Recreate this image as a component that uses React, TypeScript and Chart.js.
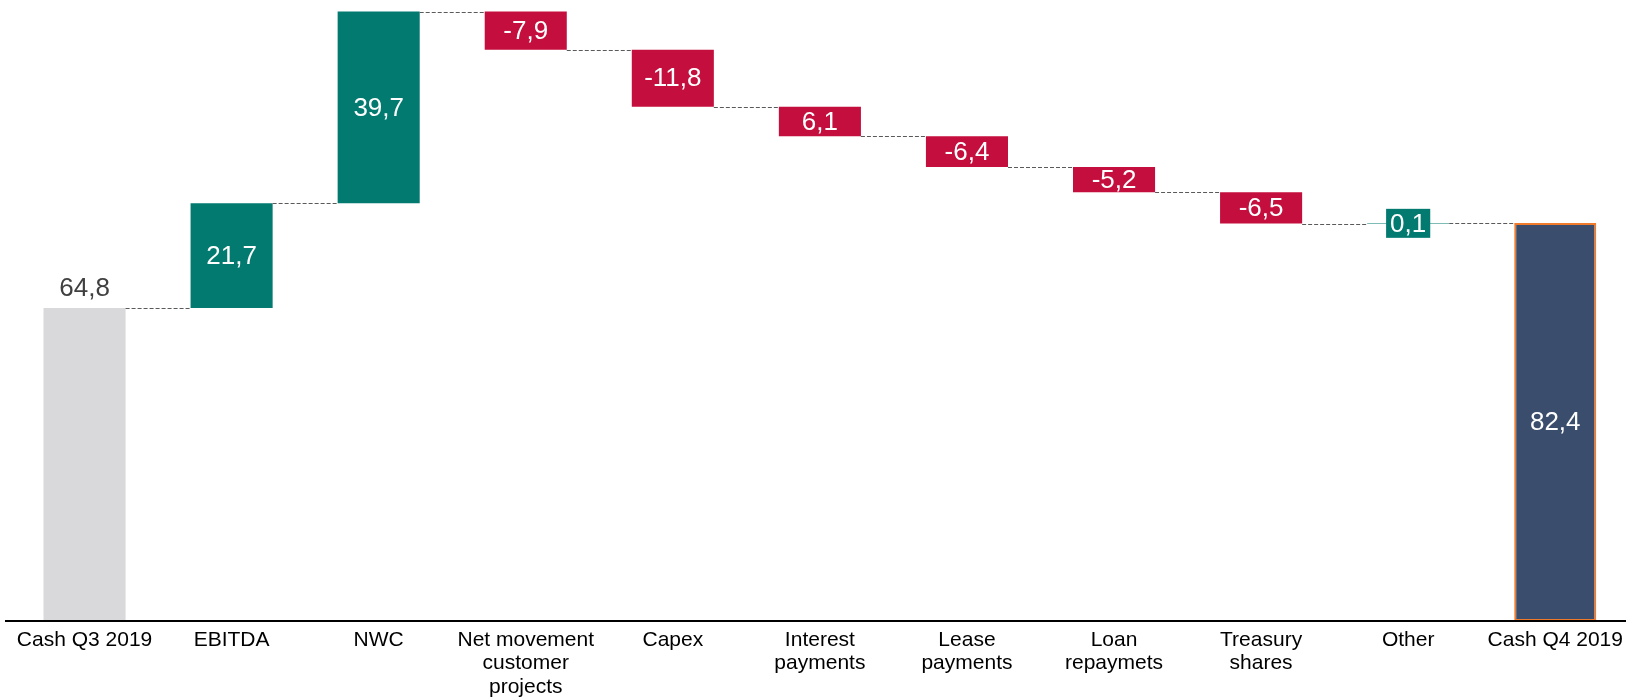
import React, { useEffect, useRef } from "react";
import { Chart, registerables } from "chart.js";

Chart.register(...registerables);

const categories: string[][] = [
  ["Cash Q3 2019"],
  ["EBITDA"],
  ["NWC"],
  ["Net movement", "customer", "projects"],
  ["Capex"],
  ["Interest", "payments"],
  ["Lease", "payments"],
  ["Loan", "repaymets"],
  ["Treasury", "shares"],
  ["Other"],
  ["Cash Q4 2019"],
];

const deltas: number[] = [64.8, 21.7, 39.7, -7.9, -11.8, -6.1, -6.4, -5.2, -6.5, 0.1, 82.4];
const kinds: string[] = ["start", "up", "up", "down", "down", "down", "down", "down", "down", "up", "end"];
const valueLabels: string[] = ["64,8", "21,7", "39,7", "-7,9", "-11,8", "6,1", "-6,4", "-5,2", "-6,5", "0,1", "82,4"];

const kindColors: Record<string, string> = {
  start: "#D9D9DB",
  up: "#027A70",
  down: "#C40E3D",
  end: "#3A4D6C",
};
const kindBorders: Record<string, string> = {
  start: "#D9D9DB",
  up: "#027A70",
  down: "#C40E3D",
  end: "#F07B2D",
};

const FONT = '"Liberation Sans", Arial, sans-serif';

function buildRanges() {
  const ranges: [number, number][] = [];
  const levels: number[] = [];
  let running = 0;
  deltas.forEach((d, i) => {
    const k = kinds[i];
    if (k === "start" || k === "end") {
      ranges.push([0, d]);
      running = d;
    } else {
      ranges.push([running, running + d]);
      running = running + d;
    }
    levels.push(running);
  });
  return { ranges, levels };
}

export default function App() {
  const ref = useRef<HTMLCanvasElement | null>(null);

  useEffect(() => {
    if (!ref.current) return;
    const { ranges, levels } = buildRanges();

    const overlay = {
      id: "overlay",
      afterDatasetsDraw(chart: any) {
        const ctx = chart.ctx as CanvasRenderingContext2D;
        const meta = chart.getDatasetMeta(0);
        const ys = chart.scales.y;
        const area = chart.chartArea;
        ctx.save();
        // connectors
        ctx.strokeStyle = "#5A5A5A";
        ctx.lineWidth = 1;
        ctx.setLineDash([4, 2]);
        for (let i = 0; i < meta.data.length - 1; i++) {
          const b = meta.data[i];
          const nb = meta.data[i + 1];
          const yy = Math.round(ys.getPixelForValue(levels[i])) + 0.5;
          ctx.beginPath();
          ctx.moveTo(b.x + b.width / 2, yy);
          ctx.lineTo(nb.x - nb.width / 2, yy);
          ctx.stroke();
        }
        // axis line
        ctx.setLineDash([]);
        ctx.strokeStyle = "#000000";
        ctx.lineWidth = 2;
        ctx.beginPath();
        ctx.moveTo(5, area.bottom);
        ctx.lineTo(chart.width, area.bottom);
        ctx.stroke();
        // value labels
        ctx.font = `26px ${FONT}`;
        ctx.textAlign = "center";
        ctx.textBaseline = "middle";
        meta.data.forEach((b: any, i: number) => {
          const top = Math.min(b.y, b.base);
          const bottom = Math.max(b.y, b.base);
          const h = bottom - top;
          const cy = (top + bottom) / 2;
          const k = kinds[i];
          const txt = valueLabels[i];
          if (k === "start") {
            ctx.fillStyle = "#404040";
            ctx.fillText(txt, b.x, top - 19);
          } else {
            if (h < 24) {
              const w = ctx.measureText(txt).width + 8;
              ctx.fillStyle = kindColors[k];
              ctx.fillRect(b.x - w / 2, cy - 14.5, w, 29);
            }
            ctx.fillStyle = "#FFFFFF";
            ctx.fillText(txt, b.x, cy + 1);
          }
        });
        ctx.restore();
      },
    };

    const chart = new Chart(ref.current, {
      type: "bar",
      data: {
        labels: categories,
        datasets: [
          {
            data: ranges as any,
            backgroundColor: kinds.map((k) => kindColors[k]),
            borderColor: kinds.map((k) => kindBorders[k]),
            borderWidth: kinds.map((k) => (k === "end" ? 2 : 0)),
            borderSkipped: false,
            barPercentage: 0.558,
            categoryPercentage: 1,
          },
        ],
      },
      options: {
        responsive: false,
        animation: false,
        layout: { padding: { left: 11, right: 1, top: 0, bottom: 0 } },
        plugins: {
          legend: { display: false },
          tooltip: { enabled: false },
        },
        scales: {
          x: {
            grid: { display: false, drawTicks: false },
            border: { display: false },
            ticks: {
              color: "#000000",
              font: { family: FONT, size: 21, lineHeight: 1.12 },
              padding: 7,
              maxRotation: 0,
              autoSkip: false,
            },
            afterFit(scale: any) {
              scale.height = 76;
            },
          },
          y: { display: false, min: 0, max: 128.6 },
        },
      },
      plugins: [overlay],
    });
    return () => chart.destroy();
  }, []);

  return (
    <div style={{ position: "fixed", left: 0, top: 0, width: 1630, height: 697, background: "#FFFFFF" }}>
      <canvas ref={ref} width={1630} height={697} style={{ display: "block" }} />
    </div>
  );
}
